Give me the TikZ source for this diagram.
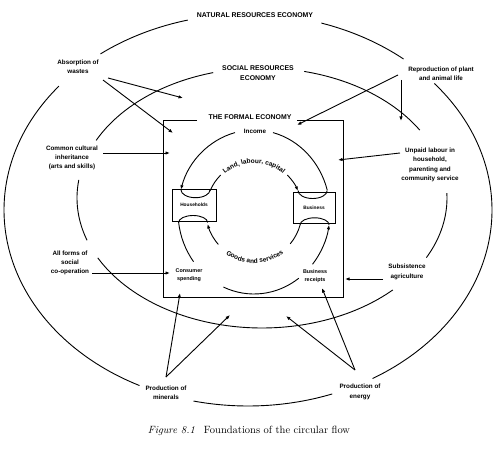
\documentclass[tikz,border=0pt]{standalone}
\usepackage{fontspec}
\newfontfamily\labfont{Liberation Sans}
\usetikzlibrary{arrows.meta,decorations.text}
\tikzset{
 arr/.style={-{Latex[length=4.5pt,width=3.4pt]}},
 ln/.style={line width=0.9pt},
 lab/.style={font=\labfont\bfseries\fontsize{6.3}{9.3}\selectfont, align=center, inner sep=1pt},
 ttl/.style={font=\labfont\bfseries\fontsize{6.9}{10}\selectfont, align=center, inner sep=1pt},
 sml/.style={font=\labfont\bfseries\fontsize{5.4}{8.5}\selectfont, align=center, inner sep=1pt},
 box/.style={draw, line width=0.8pt, font=\labfont\bfseries\fontsize{4.8}{6}\selectfont, inner sep=0pt},
}
\newcommand\EArc[7][]{\draw[ln,#1] ([shift={(#6:#4pt and #5pt)}]#2,#3) arc[start angle=#6,end angle=#7,x radius=#4pt,y radius=#5pt];}
\begin{document}
\begin{tikzpicture}[x=1pt,y=1pt]
\useasboundingbox (0,0) rectangle (500,448);
% outer ellipse: natural resources economy
\EArc{248}{238}{244}{196}{50.4}{72.5}
\EArc{248}{238}{244}{196}{104.3}{127.2}
\EArc{248}{238}{244}{196}{140.8}{243.6}
\EArc{248}{238}{244}{196}{257.1}{290.2}
\EArc{248}{238}{244}{196}{300.7}{400.2}
% middle ellipse: social resources economy
\EArc{262}{250}{185}{130}{31.5}{76.8}
\EArc{262}{250}{185}{130}{105.3}{153.7}
\EArc{262}{250}{185}{130}{172}{199}
\EArc{262}{250}{185}{130}{207.4}{315}
\EArc{262}{250}{185}{130}{332.7}{362.2}
% formal economy frame
\draw[ln] (197,328) -- (163,328) -- (163,151) -- (343,151) -- (343,328) -- (297,328);
% boxes
\node[box, minimum width=44pt, minimum height=32pt] (hh) at (194,243) {Households};
\node[box, minimum width=42pt, minimum height=31pt] (bus) at (314,240.5) {Business};
% outer ring (money flow)
\EArc{254}{236}{76}{82}{15.5}{75.5}
\EArc[arr]{254}{236}{76}{82}{104.5}{164.2}
\EArc{254}{236}{76}{82}{187}{217.3}
\EArc{254}{236}{76}{82}{246.3}{306.1}
\EArc[arr]{254}{236}{76}{82}{320.4}{351}
% inner ring (real flow)
\EArc{254}{237}{48}{50}{156.4}{134}
\EArc[arr]{254}{237}{48}{50}{46}{23.6}
\EArc{254}{237}{48}{50}{344}{319}
\EArc[arr]{254}{237}{48}{50}{222}{195}
\path[decorate,decoration={text along path,text align=center,
  text={|\labfont\bfseries\fontsize{6.5}{7}\selectfont|Land, labour, capital}}]
  ([shift={(132:45.8pt and 47.8pt)}]254,237) arc[start angle=132,end angle=48,x radius=45.8pt,y radius=47.8pt];
\path[decorate,decoration={text along path,text align=center,
  text={|\labfont\bfseries\fontsize{6.5}{7}\selectfont|Goods and services}}]
  ([shift={(226:50.2pt and 52.2pt)}]254,237) arc[start angle=226,end angle=316,x radius=50.2pt,y radius=52.2pt];
% U-turns inside the boxes
\draw[ln] (180.9,258.3) arc[start angle=180,end angle=360,x radius=14.6pt,y radius=8pt];
\draw[ln] (298,257.5) arc[start angle=180,end angle=360,x radius=14.6pt,y radius=8pt];
\draw[ln] (178.6,225.5) arc[start angle=180,end angle=0,x radius=14.5pt,y radius=7pt];
\draw[ln] (300.1,223.2) arc[start angle=180,end angle=0,x radius=14.5pt,y radius=7pt];
% labels
\node[ttl] (natural) at (255,433) {NATURAL RESOURCES ECONOMY};
\node[ttl] (social) at (258,375) {SOCIAL RESOURCES\\ECONOMY};
\node[ttl] (formal) at (250,331) {THE FORMAL ECONOMY};
\node[lab] (income) at (255,317) {Income};
\node[lab] (absorp) at (78,381) {Absorption of\\wastes};
\node[lab] (reprod) at (441,374) {Reproduction of plant\\and animal life};
\node[lab] (common) at (72,290) {Common cultural\\inheritance\\(arts and skills)};
\node[lab] (allforms) at (70,185) {All forms of\\social\\co-operation};
\node[lab] (unpaid) at (430,283) {Unpaid labour in\\household,\\parenting and\\community service};
\node[lab] (subsist) at (407,176) {Subsistence\\agriculture};
\node[lab] (minerals) at (166,55) {Production of\\minerals};
\node[lab] (energy) at (360,56) {Production of\\energy};
\node[sml] (consumer) at (189,173) {Consumer\\spending};
\node[sml] (receipts) at (315,172) {Business\\receipts};
\node[font=\fontsize{10.5}{12}\selectfont, inner sep=0pt] (caption) at (249,17) {\textit{Figure 8.1}\hspace{9pt}Foundations of the circular flow};
% arrow end points
\coordinate (a1s) at (108,370); \coordinate (a1e) at (183,350);
\coordinate (a2s) at (103,368); \coordinate (a2e) at (173,315);
\coordinate (a3s) at (398,373); \coordinate (a3e) at (297,323);
\coordinate (a4s) at (401,368); \coordinate (a4e) at (401,327);
\coordinate (a5s) at (103,295); \coordinate (a5e) at (170,295);
\coordinate (a6s) at (92,175);  \coordinate (a6e) at (170,175);
\coordinate (a7s) at (400,295); \coordinate (a7e) at (338,288);
\coordinate (a8s) at (383,169); \coordinate (a8e) at (345,169);
\coordinate (m0) at (166,71);   \coordinate (a9e) at (180,155); \coordinate (a10e) at (230,133);
\coordinate (e0) at (355,78);   \coordinate (a11e) at (322,160); \coordinate (a12e) at (286,132);
\draw[ln,arr] (a1s) -- (a1e);
\draw[ln,arr] (a2s) -- (a2e);
\draw[ln,arr] (a3s) -- (a3e);
\draw[ln,arr] (a4s) -- (a4e);
\draw[ln,arr] (a5s) -- (a5e);
\draw[ln,arr] (a6s) -- (a6e);
\draw[ln,arr] (a7s) -- (a7e);
\draw[ln,arr] (a8s) -- (a8e);
\draw[ln,arr] (m0) -- (a9e);
\draw[ln,arr] (m0) -- (a10e);
\draw[ln,arr] (e0) -- (a11e);
\draw[ln,arr] (e0) -- (a12e);
\end{tikzpicture}
\end{document}
